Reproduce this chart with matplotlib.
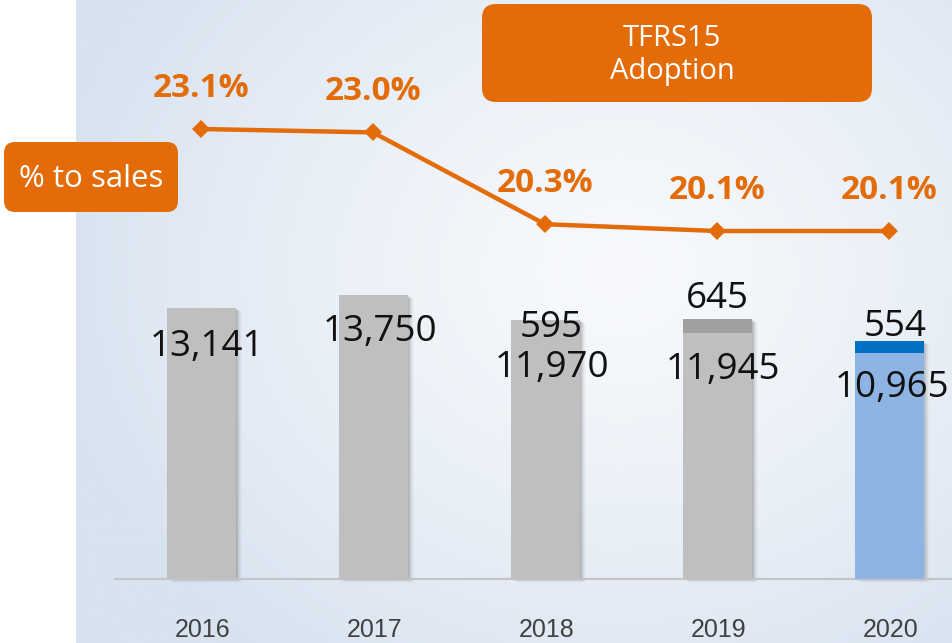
import numpy as np
import matplotlib
matplotlib.use('Agg')
import matplotlib.pyplot as plt
from matplotlib.patches import FancyBboxPatch

years = ['2016', '2017', '2018', '2019', '2020']
base_sales = [13141, 13750, 11970, 11945, 10965]
adoption = [0, 0, 595, 645, 554]
pct_to_sales = [23.1, 23.0, 20.3, 20.1, 20.1]
pct_labels = ['23.1%', '23.0%', '20.3%', '20.1%', '20.1%']
base_labels = ['13,141', '13,750', '11,970', '11,945', '10,965']
adoption_labels = ['', '', '595', '645', '554']

ORANGE = '#E36C09'
W, H = 952, 643
fig = plt.figure(figsize=(9.52, 6.43), dpi=100)
fig.patch.set_facecolor('white')
PT = 0.72  # points per pixel

# ---- background gradient
bg = fig.add_axes([76 / W, 0, 1 - 76 / W, 1])
ny, nx = 200, 300
yy, xx = np.mgrid[0:1:ny * 1j, 0:1:nx * 1j]
d = np.sqrt(((xx - 0.62) * 1.15) ** 2 + ((yy - 0.42) * 1.0) ** 2)
t = np.clip(d / 0.75, 0, 1) ** 1.3
c_in = np.array([247, 249, 252]) / 255
c_out = np.array([216, 227, 240]) / 255
img = c_in[None, None, :] * (1 - t[..., None]) + c_out[None, None, :] * t[..., None]
bg.imshow(img, aspect='auto', extent=[0, 1, 0, 1], origin='upper')
bg.axis('off')

# ---- bar axes
ax = fig.add_axes([0, 0, 1, 1])
ax.patch.set_alpha(0)
step = 172.0
x0 = 201.0
ax.set_xlim(-x0 / step, (W - x0) / step)
scale = 271.0 / 13141  # px per unit
base_px = 579.0
ax.set_ylim(-(H - base_px) / scale, base_px / scale)
ax.axis('off')

x = np.arange(len(years))
bw = 69 / step
tops = np.array(base_sales) + np.array(adoption)
# soft shadow
for k, a in zip(range(1, 7), [0.12, 0.10, 0.08, 0.06, 0.04, 0.025]):
    ax.bar(x + k / step, tops, width=bw, bottom=-(k * 0.6) / scale,
           color='#505050', alpha=a, zorder=1, linewidth=0)
base_colors = ['#BFBFBF', '#BFBFBF', '#BFBFBF', '#BFBFBF', '#8DB4E2']
top_colors = ['#BFBFBF', '#BFBFBF', '#BFBFBF', '#A0A0A0', '#0070C0']
ax.bar(x, base_sales, width=bw, color=base_colors, zorder=3, linewidth=0)
ax.bar(x, adoption, bottom=base_sales, width=bw, color=top_colors, zorder=3, linewidth=0)
ax.plot([(115 - x0) / step, (W - x0) / step], [0, 0], color='#C4C4C4', lw=1.5, zorder=2)

num_font = dict(family=['Open Sans', 'DejaVu Sans'], fontsize=26.5, color='#111111')
base_off = [(6, -39), (7, -37), (7, -36), (6, -37), (3, -35)]
for i in range(len(years)):
    dx, dy = base_off[i]
    ax.annotate(base_labels[i], (x[i], base_sales[i]), xytext=(dx * PT, dy * PT),
                textcoords='offset points', ha='center', va='center', zorder=5, **num_font)
adopt_off = [(0, 0), (0, 0), (6, -8), (0, 20), (6, 14)]
for i in range(len(years)):
    if adoption_labels[i]:
        dx, dy = adopt_off[i]
        ax.annotate(adoption_labels[i], (x[i], tops[i]), xytext=(dx * PT, dy * PT),
                    textcoords='offset points', ha='center', va='center', zorder=5, **num_font)
for i in range(len(years)):
    ax.annotate(years[i], (x[i], 0), xytext=(2 * PT, -51 * PT), textcoords='offset points',
                ha='center', va='center', fontsize=18, color='#404040',
                family=['Liberation Sans Narrow', 'Liberation Sans', 'DejaVu Sans'])

# ---- line axes
ax2 = ax.twinx()
ax2.set_position([0, 0, 1, 1])
ax2.set_xlim(ax.get_xlim())
ppp = 34.0  # px per percent
ax2.set_ylim(20.1 - (H - 231) / ppp, 20.1 + 231 / ppp)
ax2.axis('off')
ax2.plot(x, pct_to_sales, color=ORANGE, lw=3.2, marker='D', markersize=9.5,
         markeredgewidth=0, zorder=6)
for i in range(len(years)):
    ax2.annotate(pct_labels[i], (x[i], pct_to_sales[i]), xytext=(0, 40.5 * PT),
                 textcoords='offset points', ha='center', va='center',
                 fontsize=24, fontweight='bold', color=ORANGE,
                 family=['Open Sans', 'DejaVu Sans'])

# ---- callout boxes (pixel overlay)
ov = fig.add_axes([0, 0, 1, 1])
ov.set_xlim(0, W)
ov.set_ylim(H, 0)
ov.axis('off')
ov.patch.set_alpha(0)
ov.add_patch(FancyBboxPatch((4, 142), 174, 70, boxstyle='round,pad=0,rounding_size=11',
                            fc=ORANGE, ec='none'))
ov.text(91, 179, '% to sales', ha='center', va='center', color='white', fontsize=22.5,
        family=['Open Sans', 'DejaVu Sans'])
ov.add_patch(FancyBboxPatch((482, 4), 390, 98, boxstyle='round,pad=0,rounding_size=14',
                            fc=ORANGE, ec='none'))
ov.text(672, 38, 'TFRS15', ha='center', va='center', color='white', fontsize=21,
        family=['Open Sans', 'DejaVu Sans'])
ov.text(672, 72, 'Adoption', ha='center', va='center', color='white', fontsize=21,
        family=['Open Sans', 'DejaVu Sans'])

fig.savefig('out.png', dpi=100)
